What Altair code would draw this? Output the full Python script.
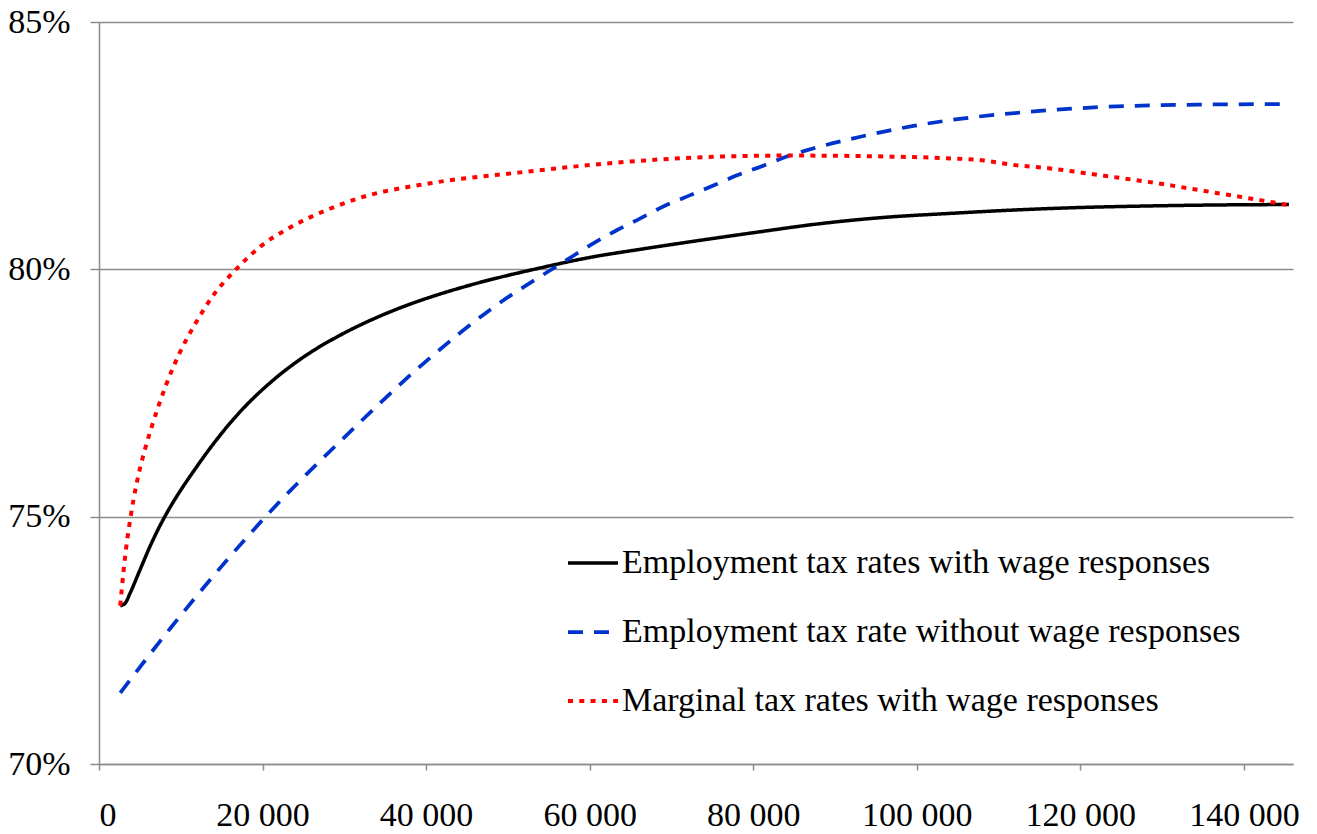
import altair as alt
import pandas as pd

# Series names (legend order)
series_names = [
    "Employment tax rates with wage responses",
    "Employment tax rate without wage responses",
    "Marginal tax rates with wage responses",
]

# Employment tax rates with wage responses (black, solid)
black_x = [2600, 3200, 3790, 5000, 6240, 7460, 8280, 11950, 17250, 21300, 25400, 29500,
           33600, 37600, 41300, 45800, 54000, 60000, 66000, 72000, 80000, 88000, 96000, 104000,
           112000, 120000, 128000, 136000, 145500]
black_y = [73.2, 73.25, 73.45, 73.92, 74.4, 74.82, 75.07, 76.01, 77.12, 77.76, 78.27, 78.67,
           79.0, 79.27, 79.48, 79.7, 80.03, 80.24, 80.4, 80.55, 80.74, 80.92, 81.05, 81.13,
           81.2, 81.25, 81.28, 81.3, 81.31]

# Employment tax rate without wage responses (blue, dashed)
blue_x = [2600, 8900, 21100, 30100, 39700, 47800, 57200, 60500, 63300, 66200, 69000, 72300, 75200,
          78000, 81300, 84100, 86600, 93100, 99600, 106600, 112700, 122500, 134700, 145500]
blue_y = [71.44, 72.78, 75.13, 76.62, 78.1, 79.18, 80.19, 80.53, 80.79, 81.03, 81.27, 81.5, 81.7,
          81.9, 82.1, 82.28, 82.41, 82.68, 82.9, 83.07, 83.17, 83.28, 83.33, 83.34]

# Marginal tax rates with wage responses (red, dotted)
red_x = [2600, 2980, 3300, 3880, 4600, 5600, 6450, 8200, 9800, 11740, 14000, 16760, 19800, 23300, 28300,
         32000, 40500, 51500, 65000, 76000, 84500, 96400, 103000, 108200, 111400, 116300, 122100,
         129000, 135700, 141200, 145400]
red_y = [73.2, 73.87, 74.34, 75.01, 75.67, 76.35, 76.82, 77.66, 78.29, 78.89, 79.48, 80.0, 80.47, 80.84, 81.23,
         81.45, 81.74, 81.96, 82.18, 82.28, 82.3, 82.28, 82.25, 82.2, 82.12, 82.04, 81.91,
         81.75, 81.57, 81.42, 81.3]

x_ticks = [0, 20000, 40000, 60000, 80000, 100000, 120000, 140000]
y_ticks = [0.70, 0.75, 0.80, 0.85]

rows = []
for name, xs, ys in [(series_names[0], black_x, black_y),
                     (series_names[1], blue_x, blue_y),
                     (series_names[2], red_x, red_y)]:
    for i, (xv, yv) in enumerate(zip(xs, ys)):
        rows.append({"series": name, "x": xv, "y": yv / 100.0, "order": i})
df = pd.DataFrame(rows)

GRAY = "#8c8c8c"
FONT = "Liberation Serif"
FS = 34

legend = alt.Legend(
    title=None,
    orient="none",
    legendX=467,
    legendY=514,
    padding=0,
    symbolType="stroke",
    symbolSize=2500,
    labelFont=FONT,
    labelFontSize=FS,
    labelColor="black",
    labelOffset=2,
    labelLimit=1000,
    rowPadding=25,
)

chart = alt.Chart(df).mark_line(interpolate="monotone").encode(
    x=alt.X("x:Q",
            scale=alt.Scale(domain=[0, 146000], nice=False, zero=False),
            axis=alt.Axis(title=None, values=x_ticks, grid=False,
                          labelExpr="replace(format(datum.value, ','), ',', ' ')",
                          tickSize=6, tickColor=GRAY, tickWidth=1.5,
                          domainColor=GRAY, domainWidth=1.5,
                          labelPadding=28, labelFont=FONT, labelFontSize=FS,
                          labelColor="black")),
    y=alt.Y("y:Q",
            scale=alt.Scale(domain=[0.70, 0.85], nice=False, zero=False),
            axis=alt.Axis(title=None, values=y_ticks, format=".0%",
                          grid=True, gridColor=GRAY, gridWidth=1.5,
                          tickSize=9, tickColor=GRAY, tickWidth=1.5,
                          domainColor=GRAY, domainWidth=1.5,
                          labelPadding=20, labelFont=FONT, labelFontSize=FS,
                          labelColor="black")),
    color=alt.Color("series:N",
                    scale=alt.Scale(domain=series_names, range=["#000000", "#0033CC", "#FF0000"]),
                    legend=legend),
    strokeDash=alt.StrokeDash("series:N",
                              scale=alt.Scale(domain=series_names, range=[[1, 0], [15, 11], [5, 6.3]]),
                              legend=legend),
    strokeWidth=alt.StrokeWidth("series:N",
                                scale=alt.Scale(domain=series_names, range=[3.5, 4, 5]),
                                legend=legend),
    order="order:Q",
).properties(
    width=1194,
    height=742,
    autosize=alt.AutoSizeParams(type="none"),
    padding={"left": 91, "top": 14, "right": 16, "bottom": 70},
).configure(
    background="white", font=FONT
).configure_view(
    stroke=None
).configure_axis(
    labelFont=FONT, labelFontSize=FS
).configure_legend(
    labelFont=FONT, labelFontSize=FS
)

chart.save("out.html", embed_options={"renderer": "svg", "actions": False})
